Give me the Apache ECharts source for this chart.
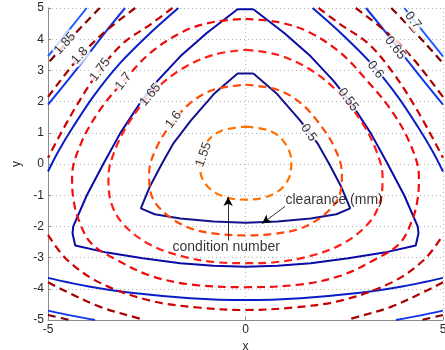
<!DOCTYPE html>
<html>
<head>
<meta charset="utf-8">
<script src="https://cdn.jsdelivr.net/npm/echarts@6/dist/echarts.min.js"></script>
<style>
  html, body { margin: 0; padding: 0; background: #fff; }
  #chart { width: 445px; height: 350px; }
</style>
</head>
<body>
<div id="chart"></div>
<script>
// contour pieces, each piece is a list of [x, y]
const clearance050 = [
  [[0.2, 2.9], [0.78, 2.27], [1.38, 1.4], [1.82, 0.67], [2.12, 0], [2.42, -0.72], [2.65, -1.42],
   [2.3, -1.61], [1.65, -1.75], [0.81, -1.84], [0, -1.88], [-0.81, -1.84], [-1.65, -1.75], [-2.3, -1.61],
   [-2.65, -1.42], [-2.42, -0.72], [-2.12, 0], [-1.82, 0.67], [-1.38, 1.4], [-0.78, 2.27], [-0.2, 2.9], [0.2, 2.9]]
];
const clearance055 = [
  [[0.2, 4.96], [0.98, 4.2], [1.65, 3.45], [2.24, 2.65], [2.67, 1.95], [3.17, 0.99], [3.6, 0], [4.02, -1.01],
   [4.36, -2.0], [4.38, -2.22], [4.31, -2.61], [3.51, -2.84], [2.6, -3.02], [1.65, -3.18], [0.81, -3.26], [0, -3.29],
   [-0.81, -3.26], [-1.65, -3.18], [-2.6, -3.02], [-3.51, -2.84], [-4.31, -2.61], [-4.38, -2.22], [-4.36, -2.0],
   [-4.02, -1.01], [-3.6, 0], [-3.17, 0.99], [-2.67, 1.95], [-2.24, 2.65], [-1.65, 3.45], [-0.98, 4.2], [-0.2, 4.96], [0.2, 4.96]]
];
const clearance060 = [
  [[-1.7, 5], [-2.41, 4.2], [-3.17, 3.24], [-3.85, 2.17], [-4.36, 1.2], [-4.74, 0.4], [-5, -0.24]],
  [[1.7, 5], [2.41, 4.2], [3.17, 3.24], [3.85, 2.17], [4.36, 1.2], [4.74, 0.4], [5, -0.24]],
  [[-5, -3.65], [-4, -3.92], [-2.9, -4.13], [-1.4, -4.3], [0, -4.36], [1.4, -4.3], [2.9, -4.13], [4, -3.92], [5, -3.65]]
];
const clearance065 = [
  [[-3.05, 5], [-3.55, 4.22], [-4.02, 3.45], [-4.5, 2.68], [-5, 1.9]],
  [[3.05, 5], [3.55, 4.22], [4.02, 3.45], [4.5, 2.68], [5, 1.9]],
  [[-5, -4.7], [-4.4, -4.86], [-3.81, -5]],
  [[5, -4.7], [4.4, -4.86], [3.81, -5]]
];
const clearance070 = [
  [[-4.02, 5], [-5, 3.45]],
  [[4.02, 5], [5, 3.45]]
];

const condition155 = [
  [[0, 1.2], [0.62, 1.06], [0.98, 0.7], [1.16, 0.1], [1.1, -0.45], [0.84, -0.86], [0.42, -1.09], [0, -1.14],
   [-0.42, -1.09], [-0.84, -0.86], [-1.1, -0.45], [-1.16, 0.1], [-0.98, 0.7], [-0.62, 1.06], [0, 1.2]]
];
const condition160 = [
  [[0, 2.54], [0.81, 2.38], [1.4, 1.95], [1.86, 1.31], [2.24, 0.56], [2.44, -0.29], [2.37, -1.04], [1.99, -1.63],
   [1.4, -2.06], [0.72, -2.24], [0, -2.29], [-0.72, -2.24], [-1.4, -2.06], [-1.99, -1.63], [-2.37, -1.04],
   [-2.44, -0.29], [-2.24, 0.56], [-1.86, 1.31], [-1.4, 1.95], [-0.81, 2.38], [0, 2.54]]
];
const condition165 = [
  [[0, 3.66], [0.81, 3.5], [1.65, 3.02], [2.41, 2.22], [2.96, 1.31], [3.3, 0.46], [3.47, -0.4], [3.4, -1.25],
   [3.08, -1.95], [2.41, -2.59], [1.57, -2.97], [0.72, -3.15], [0, -3.18], [-0.72, -3.15], [-1.57, -2.97],
   [-2.41, -2.59], [-3.08, -1.95], [-3.4, -1.25], [-3.47, -0.4], [-3.3, 0.46], [-2.96, 1.31], [-2.41, 2.22],
   [-1.65, 3.02], [-0.81, 3.5], [0, 3.66]]
];
const condition170 = [
  [[0, 4.65], [0.81, 4.55], [1.57, 4.25], [2.41, 3.56], [3.09, 2.65], [3.68, 1.74], [4.15, 0.7], [4.39, -0.4],
   [4.36, -1.1], [4.22, -1.8], [3.9, -2.55], [3.22, -3.1], [2.41, -3.58], [1.4, -3.86], [0, -3.95],
   [-1.4, -3.86], [-2.41, -3.58], [-3.22, -3.1], [-3.9, -2.55], [-4.22, -1.8], [-4.36, -1.1], [-4.39, -0.4],
   [-4.15, 0.7], [-3.68, 1.74], [-3.09, 2.65], [-2.41, 3.56], [-1.57, 4.25], [-0.81, 4.55], [0, 4.65]]
];
const condition175 = [
  [[-1.85, 5], [-2.41, 4.47], [-3.09, 3.88], [-3.68, 3.02], [-4.34, 1.74], [-5, 0.2]],
  [[1.85, 5], [2.41, 4.47], [3.09, 3.88], [3.68, 3.02], [4.34, 1.74], [5, 0.2]],
  [[-5, -2.27], [-4.52, -3.07], [-3.68, -3.81], [-2.41, -4.38], [-1.2, -4.6], [0, -4.68],
   [1.2, -4.6], [2.41, -4.38], [3.68, -3.81], [4.52, -3.07], [5, -2.27]]
];
const condition180 = [
  [[-2.79, 5], [-3.5, 4.3], [-4.19, 3.45], [-5, 2.15]],
  [[2.79, 5], [3.5, 4.3], [4.19, 3.45], [5, 2.15]],
  [[-5, -3.79], [-4.52, -4.1], [-3.68, -4.58], [-2.67, -4.96], [-2.58, -5]],
  [[5, -3.79], [4.52, -4.1], [3.68, -4.58], [2.67, -4.96], [2.58, -5]]
];
const condition185 = [
  [[-3.69, 5], [-4.57, 3.84], [-5, 3.23]],
  [[3.69, 5], [4.57, 3.84], [5, 3.23]],
  [[-5, -4.84], [-4.45, -5]],
  [[5, -4.84], [4.45, -5]]
];

// contour labels (text, where they sit on the line)
const labelText = ["1.85", "1.8", "1.75", "1.7", "1.65", "1.6", "1.55", "0.5", "0.55", "0.6", "0.65", "0.7"];
const labelPos = [[-4.57, 3.86], [-4.19, 3.47], [-3.68, 3.02], [-3.09, 2.65], [-2.41, 2.22], [-1.82, 1.42],
  [-1.06, 0.3], [1.6, 1.0], [2.6, 2.06], [3.29, 3.02], [3.79, 3.72], [4.24, 4.6]];
const labelRotate = [48, 48, 53, 52, 50, 53, 70, -55, -53, -52, -52, -52];

const clearanceLines = [clearance050, clearance055, clearance060, clearance065, clearance070];
const conditionLines = [condition155, condition160, condition165, condition170, condition175, condition180, condition185];
const clearanceColors = ["#12128e", "#0a0aa8", "#0a1ec8", "#1236e6", "#1f5cff"];
const conditionColors = ["#ff7200", "#ff4a0a", "#ff2018", "#ee0c0c", "#cc0000", "#a60000", "#800000"];

const FONT = "'Liberation Sans', Arial, Helvetica, sans-serif";
const series = [];

clearanceLines.forEach((pieces, i) => {
  pieces.forEach((piece) => {
    series.push({
      type: "line",
      data: piece,
      symbol: "none",
      smooth: piece.length > 12 ? 0 : 0.3,
      z: 2,
      silent: true,
      lineStyle: { color: clearanceColors[i], width: 2 },
    });
  });
});

conditionLines.forEach((pieces, i) => {
  pieces.forEach((piece) => {
    series.push({
      type: "line",
      data: piece,
      symbol: "none",
      smooth: 0.35,
      z: 3,
      silent: true,
      lineStyle: { color: conditionColors[i], width: 2.2, type: [8, 5], cap: "butt" },
    });
  });
});

// inline contour labels
series.push({
  type: "scatter",
  z: 5,
  silent: true,
  symbolSize: 1,
  itemStyle: { color: "rgba(0,0,0,0)" },
  label: {
    show: true,
    position: "inside",
    color: "#000",
    fontSize: 13,
    fontFamily: FONT,
    backgroundColor: "#fff",
    padding: [0, 1],
  },
  data: labelPos.map((p, i) => ({
    value: p,
    label: { formatter: labelText[i], rotate: labelRotate[i] },
  })),
});

// annotations with arrows
series.push({
  type: "scatter",
  z: 6,
  silent: true,
  symbolSize: 1,
  itemStyle: { color: "rgba(0,0,0,0)" },
  label: {
    show: true,
    position: "right",
    distance: 0,
    color: "#000",
    fontSize: 14,
    fontFamily: FONT,
  },
  data: [
    { value: [1.0, -1.15], label: { formatter: "clearance (mm)" } },
    { value: [-1.86, -2.66], label: { formatter: "condition number" } },
  ],
  markLine: {
    silent: true,
    symbol: ["none", "arrow"],
    symbolSize: [7, 9],
    label: { show: false },
    lineStyle: { color: "#000", width: 0.8, type: "solid" },
    data: [
      [{ coord: [1.0, -1.36] }, { coord: [0.42, -1.91] }],
      [{ coord: [-0.44, -2.45] }, { coord: [-0.44, -1.06] }],
    ],
  },
});

const axisText = { color: "#262626", fontSize: 12, fontFamily: FONT };
const gridLine = { show: true, lineStyle: { color: "#b4b4b4", width: 1, type: [1, 3] } };

const chart = echarts.init(document.getElementById("chart"), null, { renderer: "canvas" });
chart.setOption({
  animation: false,
  backgroundColor: "#fff",
  grid: { left: 48, right: 2, top: 8, bottom: 30, containLabel: false, outerBoundsMode: "none" },
  xAxis: {
    type: "value",
    min: -5,
    max: 5,
    interval: 5,
    name: "x",
    nameLocation: "middle",
    nameGap: 20,
    nameTextStyle: axisText,
    axisLine: { show: true, onZero: false, lineStyle: { color: "#8c8c8c", width: 1 } },
    axisTick: { show: true, inside: true, length: 3, lineStyle: { color: "#8c8c8c" } },
    axisLabel: { ...axisText, margin: 4 },
    splitLine: gridLine,
  },
  yAxis: {
    type: "value",
    min: -5,
    max: 5,
    interval: 1,
    name: "y",
    nameLocation: "middle",
    nameGap: 22,
    nameRotate: 90,
    nameTextStyle: axisText,
    axisLine: { show: true, onZero: false, lineStyle: { color: "#8c8c8c", width: 1 } },
    axisTick: { show: true, inside: true, length: 3, lineStyle: { color: "#8c8c8c" } },
    axisLabel: { ...axisText, margin: 4 },
    splitLine: gridLine,
  },
  series: series,
});
</script>
</body>
</html>
